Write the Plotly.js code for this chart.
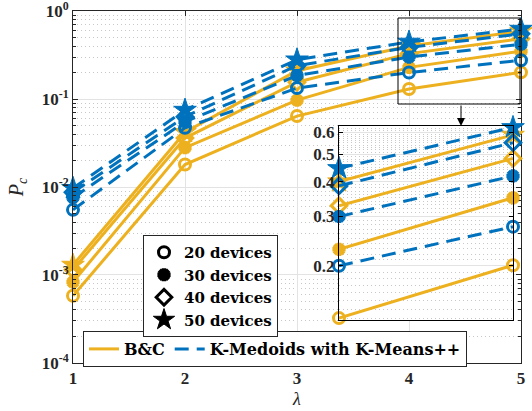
<!DOCTYPE html>
<html>
<head>
<meta charset="utf-8">
<script src="https://cdn.plot.ly/plotly-3.0.1.min.js"></script>
<style>html,body{margin:0;padding:0;background:#fff;}#plot{width:532px;height:411px;}</style>
</head>
<body>
<div id="plot"></div>
<script>
// ---- data ----
const lambda = [1, 2, 3, 4, 5];
const bc20 = [5.8e-4, 0.018, 0.064, 0.130, 0.201];
const bc30 = [8.3e-4, 0.028, 0.097, 0.229, 0.350];
const bc40 = [1.15e-3, 0.036, 0.155, 0.328, 0.484];
const bc50 = [1.3e-3, 0.042, 0.210, 0.400, 0.587];
const km20 = [5.5e-3, 0.047, 0.133, 0.200, 0.276];
const km30 = [7.6e-3, 0.055, 0.185, 0.300, 0.419];
const km40 = [8.7e-3, 0.063, 0.240, 0.386, 0.551];
const km50 = [9.7e-3, 0.075, 0.280, 0.446, 0.625];
const deviceLabels = ['20 devices', '30 devices', '40 devices', '50 devices'];
const methodLabels = ['B&amp;C', 'K-Medoids with K-Means++'];
const xTickText = ['1', '2', '3', '4', '5'];
const yTickVals = [1e-4, 1e-3, 1e-2, 1e-1, 1];
const yTickText = ['10<sup>-4</sup>', '10<sup>-3</sup>', '10<sup>-2</sup>', '10<sup>-1</sup>', '10<sup>0</sup>'];
const insetTickVals = [0.2, 0.3, 0.4, 0.5, 0.6];
const insetTickText = ['0.2', '0.3', '0.4', '0.5', '0.6'];

// ---- styles ----
const ORANGE = '#EDB120', BLUE = '#0072BD';
const symbols = ['circle-open', 'asterisk-open', 'diamond-open', 'star'];
const sizes = [11, 11, 12, 17];
const DASH = '14px,8px';
const TICKFONT = {family: 'Liberation Serif, Times New Roman, serif', size: 17, color: '#262626', weight: 'bold'};
const LEG1FONT = {family: 'DejaVu Serif, serif', size: 16, color: '#000', weight: 'bold'};
const LEG2FONT = {family: 'DejaVu Serif, serif', size: 15, color: '#000', weight: 'bold'};

const bcSeries = [bc20, bc30, bc40, bc50];
const kmSeries = [km20, km30, km40, km50];

function lw(sym) { return sym === 'asterisk-open' ? 4.5 : (sym === 'star' ? 1 : 3); }

function mk(xv, yv, color, dash, i, xa, ya) {
  const sym = symbols[i];
  return {
    x: xv, y: yv, xaxis: xa, yaxis: ya, type: 'scatter', mode: 'lines+markers',
    showlegend: false, cliponaxis: false, hoverinfo: 'skip',
    line: {color: color, width: 3, dash: dash},
    marker: {symbol: sym, size: sizes[i], color: color, line: {color: color, width: lw(sym)}}
  };
}

const traces = [];
bcSeries.forEach((s, i) => traces.push(mk(lambda, s, ORANGE, 'solid', i, 'x', 'y')));
kmSeries.forEach((s, i) => traces.push(mk(lambda, s, BLUE, DASH, i, 'x', 'y')));
bcSeries.forEach((s, i) => traces.push(mk(lambda.slice(3), s.slice(3), ORANGE, 'solid', i, 'x2', 'y2')));
kmSeries.forEach((s, i) => traces.push(mk(lambda.slice(3), s.slice(3), BLUE, DASH, i, 'x2', 'y2')));

traces.push({x: [null], y: [null], type: 'scatter', mode: 'lines', name: methodLabels[0],
  line: {color: ORANGE, width: 3}, legend: 'legend', hoverinfo: 'skip'});
traces.push({x: [null], y: [null], type: 'scatter', mode: 'lines', name: methodLabels[1],
  line: {color: BLUE, width: 3, dash: DASH}, legend: 'legend', hoverinfo: 'skip'});
deviceLabels.forEach((lab, i) => traces.push({
  x: [null], y: [null], type: 'scatter', mode: 'markers', name: lab, legend: 'legend2', hoverinfo: 'skip',
  marker: {symbol: symbols[i], size: sizes[i], color: '#000', line: {color: '#000', width: lw(symbols[i])}}
}));

const minorMain = [];
for (let e = -4; e < 0; e++) for (let m = 2; m <= 9; m++) minorMain.push(m * Math.pow(10, e));
const minorInset = [];
for (let m = 13; m < 63; m += 1) minorInset.push(m / 100);

const W = 532, H = 411, L = 73, R = 11, T = 11, B = 48;
const pw = W - L - R, ph = H - T - B;
const px = v => (v - L) / pw;
const py = v => (H - B - v) / ph;

const layout = {
  width: W, height: H,
  margin: {l: L, r: R, t: T, b: B, pad: 0},
  paper_bgcolor: '#fff', plot_bgcolor: '#fff',
  xaxis: {
    domain: [0, 1], range: [1, 5], tickmode: 'array', tickvals: lambda, ticktext: xTickText,
    ticks: 'inside', ticklen: 5, tickcolor: '#262626', showline: true, linecolor: '#262626', linewidth: 1,
    mirror: 'ticks', showgrid: true, gridcolor: '#e3e3e3', gridwidth: 1, zeroline: false,
    tickfont: TICKFONT, ticklabeloverflow: 'allow',
    title: {text: '<i>λ</i>', font: {family: 'Liberation Serif, serif', size: 18, color: '#262626'}, standoff: 4}
  },
  yaxis: {
    domain: [0, 1], type: 'log', range: [-4.0004, 0.0004], tickmode: 'array', tickvals: yTickVals, ticktext: yTickText,
    ticks: 'inside', ticklen: 5, tickcolor: '#262626', showline: true, linecolor: '#262626', linewidth: 1,
    mirror: 'ticks', showgrid: true, gridcolor: '#e3e3e3', zeroline: false,
    tickfont: TICKFONT, ticklabeloverflow: 'allow',
    minor: {tickmode: 'array', tickvals: minorMain, ticks: 'inside', ticklen: 3, tickcolor: '#262626',
            showgrid: true, gridcolor: '#c8c8c8', griddash: '1px,3px'},
    title: {text: '<i>P</i><sub><i>c</i></sub>', font: {family: 'Liberation Serif, serif', size: 20, color: '#262626'}, standoff: 12}
  },
  xaxis2: {
    domain: [px(339), px(513)], anchor: 'y2', range: [4, 5], showticklabels: false, ticks: '',
    showline: true, linecolor: '#000', linewidth: 1, mirror: true, showgrid: false, zeroline: false
  },
  yaxis2: {
    domain: [py(320), py(126)], anchor: 'x2', type: 'log', range: [Math.log10(0.128), Math.log10(0.632)],
    tickmode: 'array', tickvals: insetTickVals, ticktext: insetTickText, ticklabeloverflow: 'allow',
    ticks: 'inside', ticklen: 4, tickcolor: '#000', showline: true, linecolor: '#000', linewidth: 1,
    mirror: 'ticks', showgrid: true, gridcolor: '#e3e3e3', zeroline: false, tickfont: TICKFONT,
    minor: {tickmode: 'array', tickvals: minorInset, ticks: '', showgrid: true, gridcolor: '#c8c8c8', griddash: '1px,3px'}
  },
  legend: {
    x: px(83), y: py(331), xanchor: 'left', yanchor: 'top', orientation: 'h',
    bgcolor: '#fff', bordercolor: '#262626', borderwidth: 1, font: LEG1FONT,
    itemwidth: 30, tracegroupgap: 0
  },
  legend2: {
    x: px(143), y: py(235), xanchor: 'left', yanchor: 'top', orientation: 'v',
    bgcolor: '#fff', bordercolor: '#262626', borderwidth: 1, font: LEG2FONT,
    itemwidth: 30, tracegroupgap: 0
  },
  shapes: [{
    type: 'rect', xref: 'paper', yref: 'paper',
    x0: px(398), x1: px(520), y0: py(104), y1: py(18),
    line: {color: '#000', width: 1}, fillcolor: 'rgba(0,0,0,0)', layer: 'above'
  }],
  annotations: [{
    xref: 'paper', yref: 'paper', x: px(461), y: py(126), ax: 0, ay: -22,
    text: '', showarrow: true, arrowhead: 2, arrowsize: 1.6, arrowwidth: 1, arrowcolor: '#000'
  }]
};

Plotly.newPlot('plot', traces, layout, {staticPlot: true, displayModeBar: false});
</script>
</body>
</html>
